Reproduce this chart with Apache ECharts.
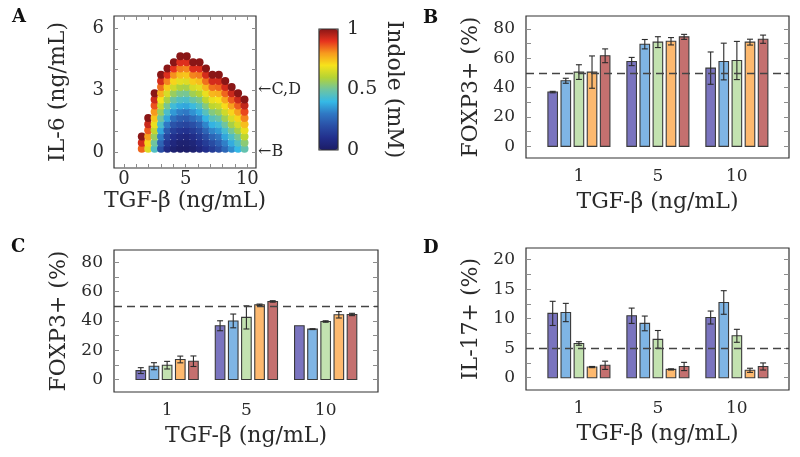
<!DOCTYPE html>
<html>
<head>
<meta charset="utf-8">
<script src="https://cdn.jsdelivr.net/npm/echarts@6/dist/echarts.min.js"></script>
<style>
  html, body { margin: 0; padding: 0; background: #fff; }
  #chart { width: 800px; height: 457px; }
</style>
</head>
<body>
<div id="chart"></div>
<script>
// ---- data ----
// panel A: columns of TGF-beta values, rows of IL-6 values, indole (mM) per dot (bottom -> top)
const tgfGrid = [1.45, 1.97, 2.49, 3.01, 3.53, 4.05, 4.57, 5.09, 5.61, 6.13, 6.65, 7.17, 7.69, 8.21, 8.73, 9.25, 9.77];
const il6Grid = [0.15, 0.45, 0.75, 1.05, 1.35, 1.65, 1.95, 2.25, 2.55, 2.85, 3.15, 3.45, 3.75, 4.05, 4.35, 4.65];
const indole = [
  [0.85, 0.92, 1.0],
  [0.66, 0.72, 0.79, 0.86, 0.93, 1.0],
  [0.45, 0.50, 0.56, 0.62, 0.68, 0.74, 0.80, 0.87, 0.93, 1.0],
  [0.20, 0.25, 0.31, 0.37, 0.44, 0.50, 0.56, 0.63, 0.70, 0.77, 0.84, 0.92, 1.0],
  [0.08, 0.12, 0.17, 0.23, 0.30, 0.37, 0.44, 0.51, 0.58, 0.65, 0.73, 0.82, 0.91, 1.0],
  [0.03, 0.06, 0.10, 0.15, 0.21, 0.28, 0.35, 0.42, 0.49, 0.56, 0.64, 0.72, 0.81, 0.90, 1.0],
  [0.01, 0.03, 0.07, 0.12, 0.18, 0.24, 0.31, 0.38, 0.45, 0.52, 0.59, 0.67, 0.75, 0.83, 0.91, 1.0],
  [0.01, 0.03, 0.06, 0.11, 0.17, 0.23, 0.30, 0.37, 0.44, 0.51, 0.58, 0.66, 0.74, 0.82, 0.91, 1.0],
  [0.03, 0.05, 0.09, 0.14, 0.20, 0.27, 0.34, 0.41, 0.49, 0.57, 0.65, 0.73, 0.82, 0.91, 1.0],
  [0.06, 0.09, 0.13, 0.18, 0.24, 0.31, 0.38, 0.45, 0.52, 0.60, 0.67, 0.75, 0.83, 0.91, 1.0],
  [0.10, 0.14, 0.19, 0.25, 0.32, 0.39, 0.46, 0.53, 0.61, 0.68, 0.76, 0.84, 0.92, 1.0],
  [0.14, 0.19, 0.25, 0.32, 0.39, 0.46, 0.53, 0.61, 0.68, 0.76, 0.84, 0.92, 1.0],
  [0.19, 0.24, 0.29, 0.35, 0.42, 0.49, 0.56, 0.63, 0.70, 0.77, 0.85, 0.92, 1.0],
  [0.26, 0.31, 0.37, 0.43, 0.50, 0.57, 0.64, 0.71, 0.78, 0.85, 0.92, 1.0],
  [0.33, 0.38, 0.44, 0.51, 0.58, 0.65, 0.72, 0.79, 0.86, 0.93, 1.0],
  [0.40, 0.45, 0.51, 0.58, 0.65, 0.72, 0.79, 0.86, 0.93, 1.0],
  [0.48, 0.54, 0.61, 0.68, 0.75, 0.82, 0.88, 0.94, 1.0]
];
const aXTicks = [0, 1, 2, 3, 4, 5, 6, 7, 8, 9, 10];
const aXLabels = [0, 5, 10];
const aYTicks = [0, 1, 2, 3, 4, 5, 6];
const aYLabels = [0, 3, 6];
const aMarks = {0: '←B', 3: '←C,D'};   // IL-6 levels used in B and C,D
const cbLabels = [0, 0.5, 1];

// panels B-D: 3 TGF-beta doses x 5 conditions, mean and error
const tgfLabels = ['1', '5', '10'];
const foxp3B = [[37, 44.7, 50.6, 50.6, 61.7], [57.8, 69.6, 71, 71.6, 74.6], [53.3, 57.8, 58.5, 71, 73]];
const foxp3BErr = [[0.5, 1.7, 5, 11, 4.7], [2.8, 3.2, 3.7, 2.5, 1.7], [11, 12.5, 13, 2, 2.8]];
const foxp3C = [[6.1, 9.1, 9.8, 13.7, 12.5], [36.7, 40, 42.4, 51, 53.3], [36.7, 34.4, 39.6, 44.2, 44.4]];
const foxp3CErr = [[2, 2.4, 2.6, 2.3, 3.6], [3.4, 4.7, 7.9, 0.5, 0.5], [0, 0.3, 0.5, 2.2, 0.8]];
const il17D = [[10.9, 11.05, 5.8, 1.8, 2.1], [10.5, 9.2, 6.5, 1.4, 1.9], [10.2, 12.75, 7.1, 1.25, 1.9]];
const il17DErr = [[2.05, 1.55, 0.3, 0.1, 0.7], [1.3, 1.25, 1.5, 0.1, 0.7], [1.1, 2, 1.1, 0.35, 0.6]];
const foxp3Threshold = 50;
const il17Threshold = 5;
const foxp3Ticks = [0, 10, 20, 30, 40, 50, 60, 70, 80];
const foxp3Labels = [0, 20, 40, 60, 80];
const il17Ticks = [0, 2.5, 5, 7.5, 10, 12.5, 15, 17.5, 20];
const il17Labels = [0, 5, 10, 15, 20];

// ---- styles ----
const FONT = 'DejaVu Serif';
const INK = '#2a2a2a';
const TICK = '#8c8c8c';
const barColors = ['#7a74bf', '#7fb5e5', '#c3e2b0', '#fdb96f', '#c4706f'];
const jet = ['#1c1c66', '#222f8c', '#2a4fa6', '#2f78c4', '#35b9e6', '#6fc4a0',
  '#b5d334', '#f7e21b', '#f79a1e', '#e6321e', '#8a1616'];
const barPitch = 0.166;   // x units between bars in a group
const barWidth = 0.121;

// heatmap points
const heatData = [];
indole.forEach((col, i) => {
  col.forEach((v, k) => heatData.push([tgfGrid[i], il6Grid[k], v]));
});

const toBarData = (vals, errs) => {
  const out = [];
  vals.forEach((grp, g) => grp.forEach((v, i) => out.push([g, i, v, errs[g][i]])));
  return out;
};

// bar + error bar drawn through the axes
const renderBar = (params, api) => {
  const g = api.value(0), i = api.value(1), v = api.value(2), e = api.value(3);
  const x = g + (i - 2) * barPitch;
  const base = api.coord([x, 0]);
  const top = api.coord([x, v]);
  const w = api.size([barWidth, 0])[0];
  const children = [{
    type: 'rect',
    shape: {x: base[0] - w / 2, y: top[1], width: w, height: base[1] - top[1]},
    style: {fill: barColors[i], stroke: '#3a3a3a', lineWidth: 1.1}
  }];
  if (e > 0) {
    const hi = api.coord([x, v + e]);
    const lo = api.coord([x, v - e]);
    const es = {stroke: '#2a2a2a', lineWidth: 1.1};
    children.push(
      {type: 'line', shape: {x1: hi[0], y1: hi[1], x2: lo[0], y2: lo[1]}, style: es},
      {type: 'line', shape: {x1: hi[0] - 3, y1: hi[1], x2: hi[0] + 3, y2: hi[1]}, style: es},
      {type: 'line', shape: {x1: lo[0] - 3, y1: lo[1], x2: lo[0] + 3, y2: lo[1]}, style: es}
    );
  }
  return {type: 'group', children};
};

const frameGrid = (left, top, width, height) => ({
  left, top, width, height, show: true, borderColor: '#333', borderWidth: 1.2,
  backgroundColor: 'transparent'
});

const labelStyle = (size, margin) => ({fontFamily: FONT, fontSize: size, color: INK, margin});
const nameStyle = {fontFamily: FONT, fontSize: 22, color: INK};
const innerTicks = (len, values) => ({
  show: true, inside: true, length: len, lineStyle: {color: TICK}, customValues: values
});

// axes only carry ticks/labels; the frame comes from the grid border
const tickAxis = (extra) => Object.assign({
  type: 'value',
  axisLine: {show: false, onZero: false},
  splitLine: {show: false},
  axisLabel: {show: false}
}, extra);

const barXAxis = (gridIndex) => tickAxis({
  gridIndex, min: -0.67, max: 2.66,
  name: 'TGF-β (ng/mL)', nameLocation: 'middle', nameGap: 33, nameTextStyle: nameStyle,
  axisTick: {show: false},
  axisLabel: Object.assign(labelStyle(17, 10), {
    show: true, customValues: [0, 1, 2], formatter: v => tgfLabels[Math.round(v)]
  })
});

const barYAxes = (gridIndex, min, max, ticks, labels, name) => [
  tickAxis({
    gridIndex, min, max, position: 'left',
    name, nameLocation: 'middle', nameGap: 44, nameTextStyle: nameStyle,
    axisTick: innerTicks(5, ticks),
    axisLabel: Object.assign(labelStyle(17, 11), {show: true, customValues: labels})
  }),
  tickAxis({
    gridIndex, min, max, position: 'right',
    axisTick: innerTicks(5, ticks)
  })
];

const threshold = (value) => ({
  silent: true, symbol: 'none', label: {show: false},
  lineStyle: {color: '#444', type: [8, 5], width: 1.3},
  data: [{yAxis: value}]
});

const chart = echarts.init(document.getElementById('chart'));

const option = {
  animation: false,
  backgroundColor: '#fff',
  title: [
    {text: 'A', left: 12, top: 8},
    {text: 'B', left: 423, top: 9},
    {text: 'C', left: 11, top: 238},
    {text: 'D', left: 423, top: 239}
  ].map(t => Object.assign(t, {
    padding: 0,
    textStyle: {fontFamily: FONT, fontSize: 18, fontWeight: 'bold', color: '#111'}
  })),
  grid: [
    frameGrid(114, 16, 142, 152),        // A
    Object.assign(frameGrid(319, 29, 19, 121), {z: 10}),  // colour bar
    frameGrid(526, 16, 263, 142),        // B
    frameGrid(114, 250, 264, 142),       // C
    frameGrid(526, 248, 263, 142)        // D
  ],
  xAxis: [
    tickAxis({
      gridIndex: 0, min: -0.8, max: 10.7, position: 'bottom',
      name: 'TGF-β (ng/mL)', nameLocation: 'middle', nameGap: 22, nameTextStyle: nameStyle,
      axisTick: innerTicks(4, aXTicks),
      axisLabel: Object.assign(labelStyle(18, 2), {show: true, customValues: aXLabels})
    }),
    tickAxis({
      gridIndex: 0, min: -0.8, max: 10.7, position: 'top',
      axisTick: innerTicks(4, aXTicks)
    }),
    tickAxis({gridIndex: 1, min: 0, max: 1, show: false}),
    barXAxis(2),
    barXAxis(3),
    barXAxis(4)
  ],
  yAxis: [
    tickAxis({
      gridIndex: 0, min: -0.78, max: 6.6, position: 'left',
      name: 'IL-6 (ng/mL)', nameLocation: 'middle', nameGap: 45, nameTextStyle: nameStyle,
      axisTick: innerTicks(4, aYTicks),
      axisLabel: Object.assign(labelStyle(18, 10), {show: true, customValues: aYLabels})
    }),
    tickAxis({
      gridIndex: 0, min: -0.78, max: 6.6, position: 'right',
      axisTick: innerTicks(4, aYTicks),
      axisLabel: Object.assign(labelStyle(16, 2), {
        show: true, customValues: [0, 3], formatter: v => aMarks[Math.round(v)]
      })
    }),
    tickAxis({
      gridIndex: 1, min: 0, max: 1, position: 'right',
      name: 'Indole (mM)', nameLocation: 'middle', nameRotate: -90, nameGap: 45,
      nameTextStyle: nameStyle,
      axisTick: {show: false},
      axisLabel: Object.assign(labelStyle(19, 9), {show: true, customValues: cbLabels})
    }),
    ...barYAxes(2, -7.9, 88.8, foxp3Ticks, foxp3Labels, 'FOXP3+ (%)'),
    ...barYAxes(3, -8.5, 88.4, foxp3Ticks, foxp3Labels, 'FOXP3+ (%)'),
    ...barYAxes(4, -2.09, 21.99, il17Ticks, il17Labels, 'IL-17+ (%)')
  ],
  visualMap: {
    type: 'continuous',
    min: 0, max: 1,
    seriesIndex: 0, dimension: 2,
    left: 319, top: 29, itemWidth: 19, itemHeight: 121,
    padding: 0, calculable: false, hoverLink: false,
    text: null, showLabel: false,
    inRange: {color: jet}
  },
  series: [
    {
      type: 'scatter', xAxisIndex: 0, yAxisIndex: 0,
      symbol: 'circle', symbolSize: 8, silent: true,
      itemStyle: {opacity: 1},
      data: heatData
    },
    {
      type: 'custom', xAxisIndex: 3, yAxisIndex: 3,
      renderItem: renderBar, data: toBarData(foxp3B, foxp3BErr),
      markLine: threshold(foxp3Threshold)
    },
    {
      type: 'custom', xAxisIndex: 4, yAxisIndex: 5,
      renderItem: renderBar, data: toBarData(foxp3C, foxp3CErr),
      markLine: threshold(foxp3Threshold)
    },
    {
      type: 'custom', xAxisIndex: 5, yAxisIndex: 7,
      renderItem: renderBar, data: toBarData(il17D, il17DErr),
      markLine: threshold(il17Threshold)
    }
  ]
};

chart.setOption(option);
</script>
</body>
</html>
